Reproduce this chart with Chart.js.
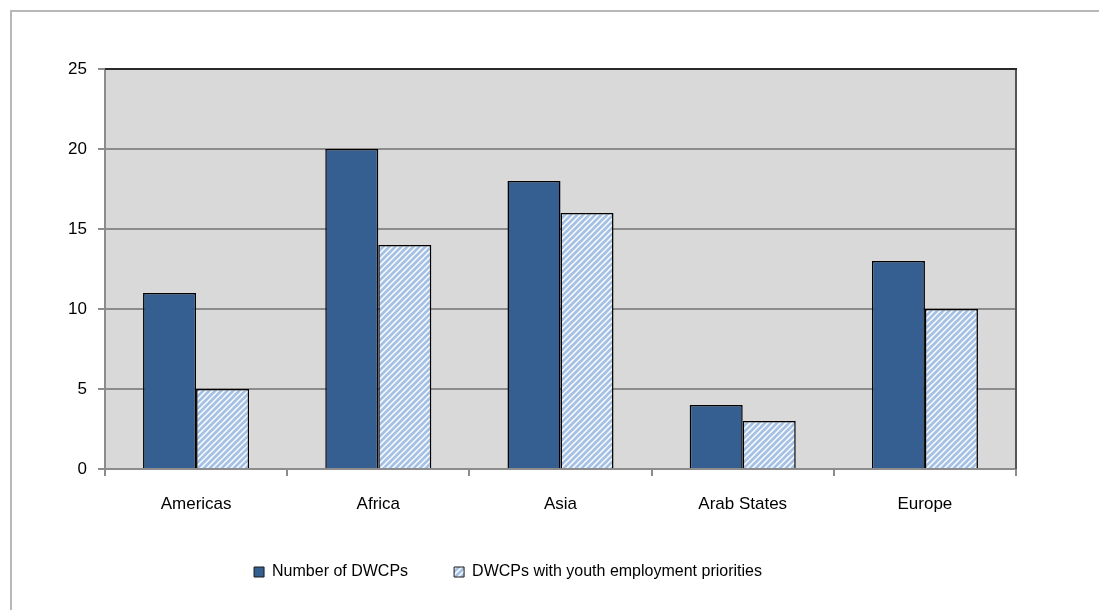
<!DOCTYPE html>
<html>
<head>
<meta charset="utf-8">
<style>
  html, body { margin: 0; padding: 0; background: #ffffff; }
  #wrap { position: relative; width: 1099px; height: 610px; overflow: hidden; }
  #frame { position: absolute; left: 10px; top: 10px; width: 1200px; height: 700px;
           border-left: 2px solid #b8b8b8; border-top: 2px solid #b8b8b8; }
  canvas { position: absolute; left: 0; top: 0; }
</style>
<script src="https://cdn.jsdelivr.net/npm/chart.js@4/dist/chart.umd.min.js"></script>
</head>
<body>
<div id="wrap">
  <div id="frame"></div>
  <canvas id="c" width="1099" height="610"></canvas>
</div>
<script>
// Regions and DWCP counts
const regions = ["Americas", "Africa", "Asia", "Arab States", "Europe"];
const numberOfDWCPs = [11, 20, 18, 4, 13];
const youthPriorityDWCPs = [5, 14, 16, 3, 10];
const seriesNames = ["Number of DWCPs", "DWCPs with youth employment priorities"];
const yTicks = [0, 5, 10, 15, 20, 25];

// Light-blue diagonal hatch fill
function makeHatch() {
  const s = 6;
  const p = document.createElement("canvas");
  p.width = s; p.height = s;
  const g = p.getContext("2d");
  g.fillStyle = "#ffffff";
  g.fillRect(0, 0, s, s);
  g.strokeStyle = "#a4c0e4";
  g.lineWidth = 2.8;
  g.beginPath();
  g.moveTo(-1, s + 1); g.lineTo(s + 1, -1);
  g.moveTo(-1, 1); g.lineTo(1, -1);
  g.moveTo(s - 1, s + 1); g.lineTo(s + 1, s - 1);
  g.stroke();
  return g.createPattern(p, "repeat");
}
const hatch = makeHatch();

// Grey plot background with dark top/right frame
const plotFrame = {
  id: "plotFrame",
  beforeDraw(chart) {
    const { ctx, chartArea: a } = chart;
    ctx.save();
    ctx.fillStyle = "#d9d9d9";
    ctx.fillRect(a.left, a.top, a.right - a.left, a.bottom - a.top);
    ctx.restore();
  },
  afterDatasetsDraw(chart) {
    const { ctx, chartArea: a } = chart;
    ctx.save();
    ctx.strokeStyle = "#555555";
    ctx.lineWidth = 2;
    ctx.beginPath();
    ctx.moveTo(a.right, a.top);
    ctx.lineTo(a.right, a.bottom);
    ctx.stroke();
    ctx.strokeStyle = "#2a2a2a";
    ctx.beginPath();
    ctx.moveTo(a.left, a.top);
    ctx.lineTo(a.right + 1, a.top);
    ctx.stroke();
    ctx.restore();
  }
};

const axisFont = { family: "'Liberation Sans', Arial, sans-serif", size: 17 };
const legendFont = { family: "'Liberation Sans', Arial, sans-serif", size: 16 };

new Chart(document.getElementById("c"), {
  type: "bar",
  data: {
    labels: regions,
    datasets: [
      { label: seriesNames[0], data: numberOfDWCPs, backgroundColor: "#355f91",
        borderColor: "#000000", borderWidth: 1.5 },
      { label: seriesNames[1], data: youthPriorityDWCPs, backgroundColor: hatch,
        borderColor: "#000000", borderWidth: 1.5 }
    ]
  },
  options: {
    responsive: false,
    animation: false,
    devicePixelRatio: 1,
    layout: { padding: { top: 69, right: 83, left: 0, bottom: 20 } },
    datasets: { bar: { categoryPercentage: 0.582, barPercentage: 1.0, borderSkipped: "bottom" } },
    plugins: {
      tooltip: { enabled: false },
      legend: {
        position: "bottom",
        labels: {
          font: legendFont, color: "#000000",
          boxWidth: 10, boxHeight: 10, padding: 46,
          generateLabels(chart) {
            return chart.data.datasets.map((d, i) => ({
              text: d.label,
              fillStyle: i === 0 ? "#355f91" : hatch,
              strokeStyle: "#1a1a1a",
              lineWidth: 1,
              datasetIndex: i
            }));
          }
        }
      }
    },
    scales: {
      x: {
        afterFit(s) { s.height = 49; },
        grid: { display: true, offset: true, drawOnChartArea: false,
                color: "#8c8c8c", lineWidth: 2, tickLength: 7 },
        border: { display: true, color: "#8c8c8c", width: 2 },
        ticks: { font: axisFont, color: "#000000", padding: 18 }
      },
      y: {
        min: 0, max: 25,
        afterFit(s) { s.width = 105; },
        afterBuildTicks(s) { s.ticks = yTicks.map(v => ({ value: v })); },
        grid: { color: "#8c8c8c", lineWidth: 2, tickLength: 7 },
        border: { display: true, color: "#8c8c8c", width: 2 },
        ticks: { font: axisFont, color: "#000000", padding: 11 }
      }
    }
  },
  plugins: [plotFrame]
});
</script>
</body>
</html>
